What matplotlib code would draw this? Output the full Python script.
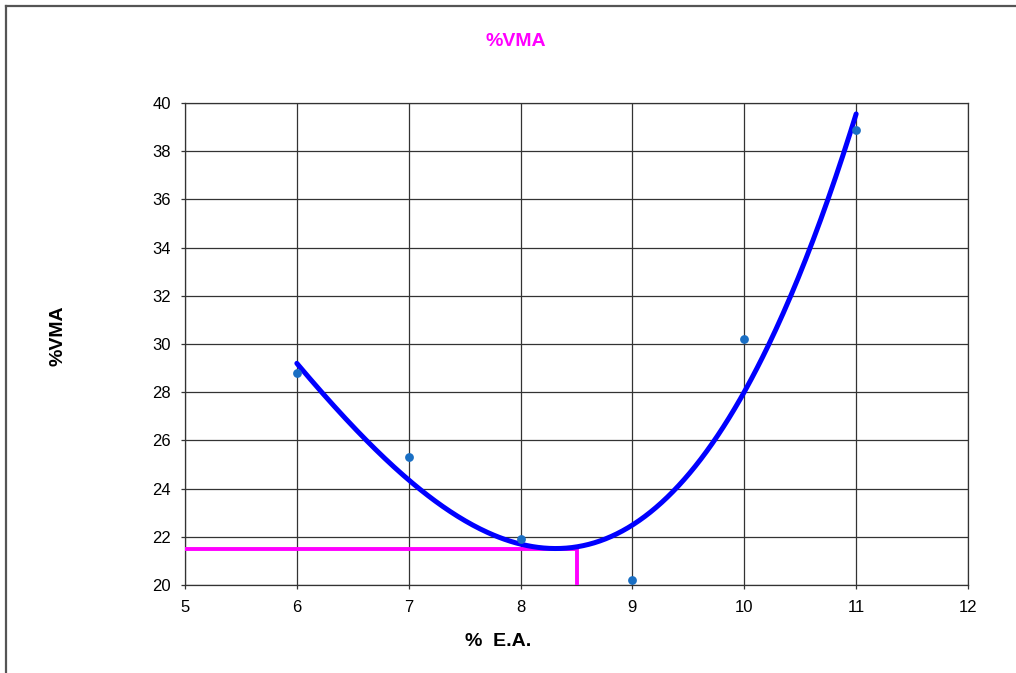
import numpy as np
import matplotlib
matplotlib.use("Agg")
import matplotlib.pyplot as plt
from matplotlib.lines import Line2D

plt.rcParams['font.family'] = ['Liberation Sans', 'DejaVu Sans']

# Asphalt content (% E.A.) vs voids in mineral aggregate (%VMA)
ea_pct = [6, 7, 8, 9, 10, 11]
vma_pct = [28.8, 25.3, 21.9, 20.2, 30.2, 38.9]

# Design reading taken from the trend curve
design_ea = 8.5
design_vma = 21.5

x_ticks = [5, 6, 7, 8, 9, 10, 11, 12]
y_ticks = [20, 22, 24, 26, 28, 30, 32, 34, 36, 38, 40]

fig = plt.figure(figsize=(10.16, 6.73), dpi=100)
ax = fig.add_axes([185 / 1016, 88 / 673, 783 / 1016, 482 / 673])

# Outer chart frame (left and top edges)
fig.add_artist(Line2D([6 / 1016, 6 / 1016], [0, 1 - 5.5 / 673],
                      transform=fig.transFigure, color='#555555', lw=1.6))
fig.add_artist(Line2D([6 / 1016, 1], [1 - 5.5 / 673, 1 - 5.5 / 673],
                      transform=fig.transFigure, color='#555555', lw=1.6))

# Polynomial trend line (3rd order) through the measured points
coef = np.polyfit(ea_pct, vma_pct, 3)
xs = np.linspace(min(ea_pct), max(ea_pct), 300)
ax.plot(xs, np.polyval(coef, xs), color='#0000FF', lw=3.6,
        solid_capstyle='round', zorder=4)

ax.scatter(ea_pct, vma_pct, s=40, color='#1A6FC4', zorder=5,
           linewidths=0, clip_on=False)

# Design lines
ax.plot([x_ticks[0], design_ea], [design_vma, design_vma], color='#FF00FF',
        lw=2.8, zorder=3, solid_capstyle='butt')
ax.plot([design_ea, design_ea], [y_ticks[0], design_vma], color='#FF00FF',
        lw=2.8, zorder=3, solid_capstyle='butt')

ax.set_xlim(x_ticks[0], x_ticks[-1])
ax.set_ylim(y_ticks[0], y_ticks[-1])
ax.set_xticks(x_ticks)
ax.set_yticks(y_ticks)
ax.grid(True, color='#333333', lw=0.9)
ax.set_axisbelow(True)
for s in ax.spines.values():
    s.set_color('#333333')
    s.set_linewidth(0.9)
ax.tick_params(direction='out', length=3, width=0.9, color='#333333',
               labelsize=12)
ax.tick_params(axis='y', pad=7)
ax.tick_params(axis='x', pad=7.5)

fig.text(498 / 1016, 1 - 642 / 673, '%  E.A.', fontsize=14,
         fontweight='bold', ha='center', va='center')
fig.text(58 / 1016, 1 - 336 / 673, '%VMA', fontsize=14, fontweight='bold',
         ha='center', va='center', rotation=90)
fig.text(516 / 1016, 1 - 41 / 673, '%VMA', color='#FF00FF', fontsize=14,
         fontweight='bold', ha='center', va='center')

fig.savefig('out.png', dpi=100)
